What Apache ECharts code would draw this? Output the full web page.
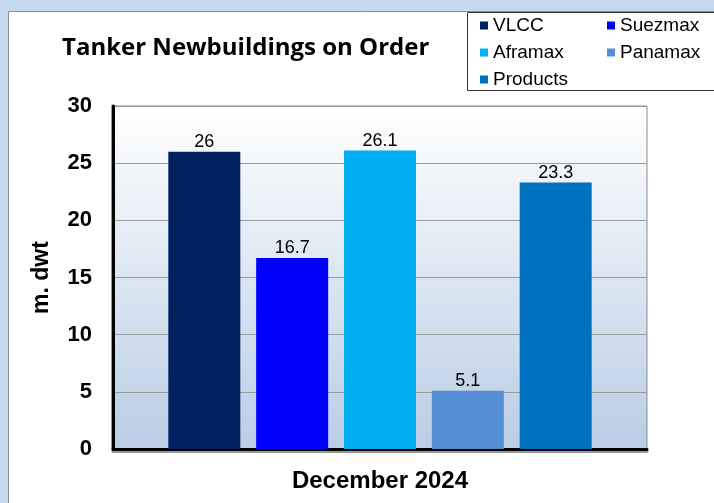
<!DOCTYPE html>
<html>
<head>
<meta charset="utf-8">
<script src="https://cdn.jsdelivr.net/npm/echarts@6/dist/echarts.min.js"></script>
<style>
  html, body { margin: 0; padding: 0; }
  #chart { width: 714px; height: 503px; }
</style>
</head>
<body>
<div id="chart"></div>
<script>
// data
const categories = ['December 2024']
const seriesNames = ['VLCC', 'Suezmax', 'Aframax', 'Panamax', 'Products']
const vlcc = [26]
const suezmax = [16.7]
const aframax = [26.1]
const panamax = [5.1]
const products = [23.3]
const colors = ['#002060', '#0000FF', '#00B0F0', '#558ED5', '#0070C0']

const values = [vlcc, suezmax, aframax, panamax, products]

var myChart = echarts.init(document.getElementById('chart'))

var series = seriesNames.map((name, i) => {
    return {
        name: name,
        type: 'bar',
        data: values[i],
        barWidth: 72,
        barGap: '22%',
        itemStyle: { color: colors[i] },
        label: {
            show: true,
            position: 'top',
            distance: 1,
            color: '#000',
            fontFamily: 'Liberation Sans',
            fontSize: 18
        }
    }
})

var option = {
    backgroundColor: '#C6D9F1',
    animation: false,
    graphic: [
        {
            type: 'rect',
            z: -10,
            shape: { x: 8.5, y: 11.5, width: 720, height: 500 },
            style: { fill: '#fff', stroke: '#8c8c8c', lineWidth: 1 }
        },
        {
            type: 'rect',
            z: -5,
            shape: { x: 467.5, y: 12.5, width: 260, height: 78 },
            style: { fill: '#fff', stroke: '#333', lineWidth: 1 }
        }
    ],
    title: {
        text: 'Tanker Newbuildings on Order',
        left: 57,
        top: 31,
        textStyle: {
            fontFamily: 'Open Sans',
            fontWeight: 'bold',
            fontSize: 24,
            color: '#000'
        }
    },
    legend: {
        left: 475,
        top: 11,
        width: 260,
        itemWidth: 8,
        itemHeight: 8,
        itemGap: 8,
        itemTextGap: 6,
        icon: 'rect',
        textStyle: {
            fontFamily: 'Liberation Sans',
            fontSize: 19,
            color: '#000',
            width: 106,
            lineHeight: 17
        },
        data: seriesNames
    },
    grid: {
        left: 113,
        right: 67,
        top: 106,
        bottom: 54,
        show: true,
        borderColor: '#8c8c8c',
        borderWidth: 1,
        backgroundColor: {
            type: 'linear', x: 0, y: 0, x2: 0, y2: 1,
            colorStops: [{ offset: 0, color: '#ffffff' }, { offset: 1, color: '#B9CDE5' }]
        }
    },
    xAxis: {
        type: 'category',
        data: categories,
        axisLine: { lineStyle: { color: '#000', width: 3, shadowColor: 'rgba(0,0,0,0.4)', shadowOffsetY: 2 } },
        axisTick: { show: false },
        axisLabel: {
            margin: 20,
            fontFamily: 'Liberation Sans',
            fontWeight: 'bold',
            fontSize: 24,
            color: '#000'
        }
    },
    yAxis: {
        type: 'value',
        min: 0,
        max: 30,
        interval: 5,
        name: 'm. dwt',
        nameLocation: 'middle',
        nameGap: 60,
        nameTextStyle: {
            fontFamily: 'Liberation Sans',
            fontWeight: 'bold',
            fontSize: 23,
            color: '#000'
        },
        axisLine: { show: true, lineStyle: { color: '#000', width: 3, shadowColor: 'rgba(0,0,0,0.4)', shadowOffsetX: -1 } },
        axisTick: { show: false },
        axisLabel: {
            margin: 21,
            fontFamily: 'Liberation Sans',
            fontWeight: 'bold',
            fontSize: 22,
            color: '#000'
        },
        splitLine: { lineStyle: { color: '#999', width: 1 } }
    },
    series: series
}
myChart.setOption(option)
</script>
</body>
</html>
